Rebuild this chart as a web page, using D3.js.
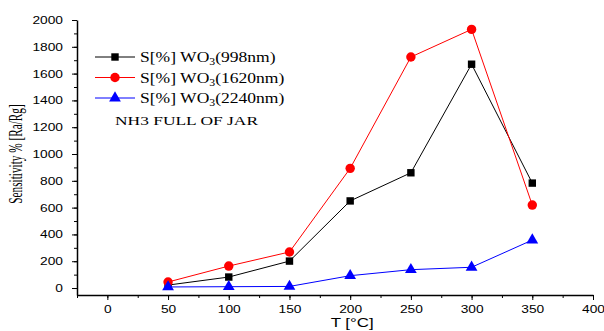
<!DOCTYPE html>
<html lang="en">
<head>
    <meta charset="UTF-8">
    <title>Sensitivity vs T</title>
    <script src="https://d3js.org/d3.v7.min.js"></script>
    <style>
        body { margin: 0; background: #fff; }
        svg { display: block; }
        .tick text { font-family: "Liberation Sans", Arial, sans-serif; font-size: 11px; }
    </style>
</head>
<body>
    <div id="chart"></div>
    <script>
        const temps = [50, 100, 150, 200, 250, 300, 350];
        const s998 = [22, 82, 201, 650, 860, 1670, 783];
        const s1620 = [45, 164, 269, 893, 1724, 1930, 619];
        const s2240 = [8, 10, 12, 92, 137, 155, 358];
        const seriesNames = ['998nm', '1620nm', '2240nm'];
        const xTicks = [0, 50, 100, 150, 200, 250, 300, 350, 400];
        const yTicks = [0, 200, 400, 600, 800, 1000, 1200, 1400, 1600, 1800, 2000];

        const width = 604, height = 331;
        const margin = { top: 20, right: 11, bottom: 36, left: 77 };
        const serif = '"Liberation Serif", "Times New Roman", serif';

        const svg = d3.select('#chart').append('svg')
            .attr('width', width)
            .attr('height', height);

        const x = d3.scaleLinear().domain([-25, 400]).range([margin.left, width - margin.right]);
        const y = d3.scaleLinear().domain([-52, 2000]).range([height - margin.bottom, margin.top]);

        // minor ticks
        svg.append('g')
            .attr('transform', `translate(0,${height - margin.bottom})`)
            .call(d3.axisBottom(x).tickValues(d3.range(-25, 401, 25)).tickSize(3).tickFormat(''))
            .call(g => g.select('.domain').remove());
        svg.append('g')
            .attr('transform', `translate(${margin.left},0)`)
            .call(d3.axisLeft(y).tickValues(d3.range(0, 2001, 100)).tickSize(3).tickFormat(''))
            .call(g => g.select('.domain').remove());

        svg.append('g')
            .attr('transform', `translate(0,${height - margin.bottom})`)
            .call(d3.axisBottom(x).tickValues(xTicks).tickSize(5).tickSizeOuter(0).tickPadding(5).tickFormat(d3.format('d')))
            .call(g => g.select('.domain').attr('stroke-width', 1.5))
            .call(g => g.selectAll('.tick text').attr('transform', 'scale(1.25,1)'));
        svg.append('g')
            .attr('transform', `translate(${margin.left},0)`)
            .call(d3.axisLeft(y).tickValues(yTicks).tickSize(5).tickSizeOuter(0).tickFormat(d3.format('d')))
            .call(g => g.select('.domain').attr('stroke-width', 1.5))
            .call(g => g.selectAll('.tick text').attr('x', -11.2).attr('transform', 'scale(1.25,1)'));

        svg.append('text')
            .attr('transform', `translate(${x(200) + 2},327) scale(1.3,1)`)
            .attr('text-anchor', 'middle')
            .style('font-family', '"Liberation Sans", Arial, sans-serif')
            .style('font-size', '13px')
            .text('T [°C]');

        svg.append('text')
            .attr('transform', `translate(22,${y(1000)}) rotate(-90) scale(0.75,1.25)`)
            .attr('text-anchor', 'middle')
            .style('font-family', serif)
            .style('font-size', '15px')
            .text('Sensitivity % [Ra/Rg]');

        const series = [
            { name: seriesNames[0], values: s998, color: 'black', shape: d3.symbolSquare, size: 55 },
            { name: seriesNames[1], values: s1620, color: 'red', shape: d3.symbolCircle, size: 70 },
            { name: seriesNames[2], values: s2240, color: 'blue', shape: d3.symbolTriangle, size: 60 }
        ];

        const line = d3.line().x((d, i) => x(temps[i])).y(d => y(d));

        series.forEach(s => {
            svg.append('path')
                .datum(s.values)
                .attr('fill', 'none')
                .attr('stroke', s.color)
                .attr('stroke-width', 1)
                .attr('d', line);
            svg.append('g').selectAll('path')
                .data(s.values)
                .join('path')
                .attr('transform', (d, i) => `translate(${x(temps[i])},${y(d)})`)
                .attr('d', d3.symbol(s.shape, s.size))
                .attr('fill', s.color);
        });

        // legend
        const legend = svg.append('g').attr('transform', 'translate(95,57)');
        series.forEach((s, i) => {
            const g = legend.append('g').attr('transform', `translate(0,${i * 20.5})`);
            g.append('line').attr('x1', 0).attr('x2', 40).attr('stroke', s.color);
            g.append('path').attr('transform', 'translate(20,0)')
                .attr('d', d3.symbol(s.shape, s.size)).attr('fill', s.color);
            const t = g.append('text').attr('transform', 'translate(45,5) scale(1.17,1)')
                .style('font-family', serif)
                .style('font-size', '15px');
            t.append('tspan').text('S[%] WO');
            t.append('tspan').attr('dy', 3).style('font-size', '10px').text('3');
            t.append('tspan').attr('dy', -3).text('(' + s.name + ')');
        });
        legend.append('text').attr('transform', 'translate(20,68) scale(1.34,1)')
            .style('font-family', serif)
            .style('font-size', '13px')
            .text('NH3 FULL OF JAR');
    </script>
</body>
</html>
